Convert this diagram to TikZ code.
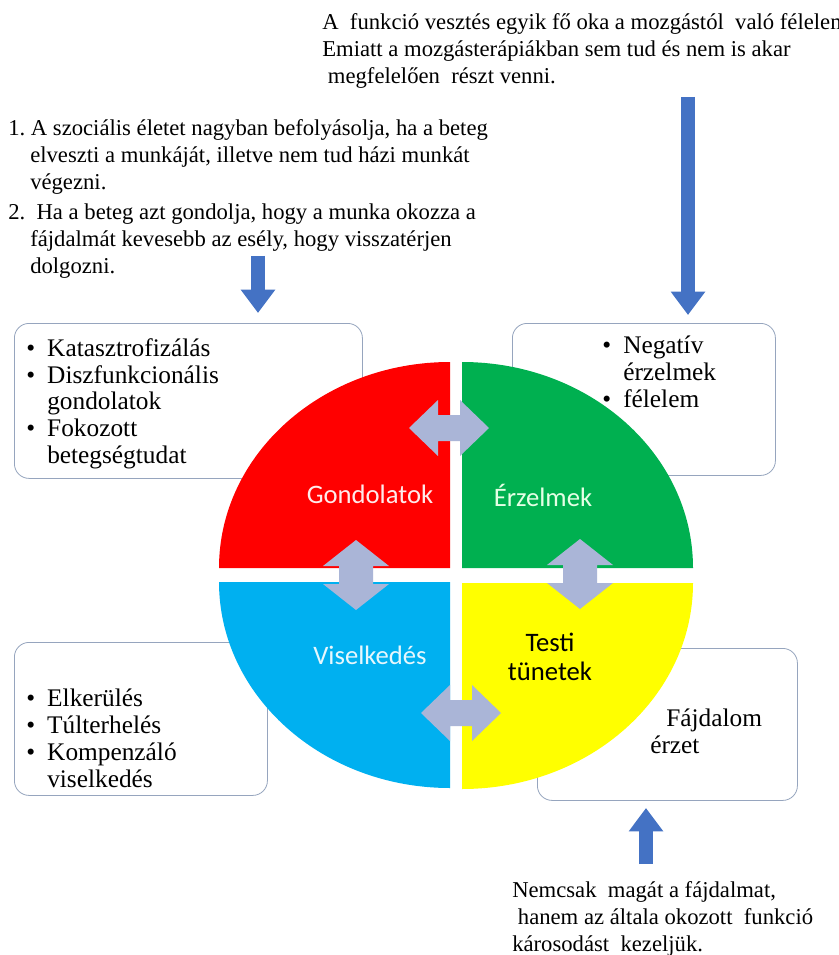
\documentclass[tikz,border=0pt]{standalone}
\usepackage{fontspec}
\setmainfont{Liberation Serif}
\newfontfamily\calibri{Carlito}
\usepackage{tikz}
\usetikzlibrary{arrows.meta,positioning}
\definecolor{cred}{RGB}{255,0,0}
\definecolor{cgreen}{RGB}{0,176,80}
\definecolor{cblue}{RGB}{0,176,240}
\definecolor{cyellow}{RGB}{255,255,0}
\definecolor{carr}{RGB}{68,114,196}
\definecolor{cgray}{RGB}{170,181,215}
\definecolor{cframe}{RGB}{150,165,190}
\tikzset{
  infobox/.style={rectangle,draw=cframe,line width=0.6pt,rounded corners=11pt,
    fill=white,inner sep=0pt},
  note/.style={font=\rmfamily\fontsize{17}{20.25}\selectfont,align=left,inner sep=0pt},
  listtxt/.style={font=\rmfamily\fontsize{19}{20.2}\selectfont,align=left,inner sep=0pt},
  quadlab/.style={font=\calibri\fontsize{20}{21.5}\selectfont,align=center,inner sep=0pt},
  bluearr/.style={draw=carr,line width=10.5pt,
    -{Triangle[width=24.75pt,length=17.5pt]}},
  % double-headed connectors between the quarters
  hdbl/.pic={\fill[cgray] (-40,0) -- (-11,-28) -- (-11,-13) -- (11,-13) -- (11,-28)
    -- (40,0) -- (11,28) -- (11,13) -- (-11,13) -- (-11,28) -- cycle;},
  vdbl/.pic={\fill[cgray] (0,-35) -- (33,-9) -- (17,-9) -- (17,9) -- (33,9)
    -- (0,35) -- (-33,9) -- (-17,9) -- (-17,-9) -- (-33,-9) -- cycle;}
}
\newcommand{\bul}{\makebox[15.75pt][l]{\textbullet}}
\newcommand{\bulind}{\hspace*{15.75pt}}

\begin{document}
\begin{tikzpicture}[x=0.75pt,y=-0.75pt]
  \useasboundingbox (0,0) rectangle (838,955);
  \fill[white] (0,0) rectangle (838,955);
  % boxes behind the circle
  \node[infobox,minimum width=261pt,minimum height=116.25pt,anchor=north west] (boxTL) at (14,323) {};
  \node[infobox,minimum width=197.25pt,minimum height=114pt,anchor=north west] (boxTR) at (512,323) {};
  \node[infobox,minimum width=189.75pt,minimum height=114.75pt,anchor=north west] (boxBL) at (14,642) {};
  \node[infobox,minimum width=195pt,minimum height=114pt,anchor=north west] (boxBR) at (537,648) {};
  \node[listtxt,anchor=north west] (txtTL) at (26,338) {\bul Katasztrofizálás\\ \bul Diszfunkcionális\\ \bulind gondolatok\\ \bul Fokozott\\ \bulind betegségtudat};
  \node[listtxt,anchor=north west] (txtTR) at (602,336) {\bul Negatív\\ \bulind érzelmek\\ \bul félelem};
  \node[listtxt,anchor=north west] (txtBL) at (26,689) {\bul Elkerülés\\ \bul Túlterhelés\\ \bul Kompenzáló\\ \bulind viselkedés};
  \node[listtxt,anchor=north west] (txtBR) at (650,709) {\hspace*{12pt}Fájdalom\\ érzet};
  % the four quarters
  \fill[cred] (450,568) -- (219,568) arc[start angle=180,end angle=270,x radius=231,y radius=206] -- cycle;
  \fill[cgreen] (462,568) -- (462,362) arc[start angle=270,end angle=360,x radius=231,y radius=206] -- cycle;
  \fill[cblue] (450,582) -- (450,788) arc[start angle=90,end angle=180,x radius=231,y radius=206] -- cycle;
  \fill[cyellow] (462,583) -- (693,583) arc[start angle=0,end angle=90,x radius=231,y radius=206] -- cycle;
  \node[quadlab,text=red!8] (gond) at (370,494) {Gondolatok};
  \node[quadlab,text=green!10] (erz) at (543,495) {Érzelmek};
  \node[quadlab,text=cyan!10] (visel) at (370,655) {Viselkedés};
  \node[quadlab,text=black] (testi) at (550,657) {Testi\\tünetek};
  \pic at (449,428) {hdbl};
  \pic at (461,713) {hdbl};
  \pic at (356,575) {vdbl};
  \pic at (580,574) {vdbl};
  % texts and blue arrows
  \node[note,anchor=north west] (topnote) at (322,13) {A\ \ funkció vesztés egyik fő oka a mozgástól\ \ való félelem\\ Emiatt a mozgásterápiákban sem tud és nem is akar\\ \ megfelelően\ \ részt venni.};
  \node[note,anchor=north west] (leftnote) at (8,119) {1.\ A szociális életet nagyban befolyásolja,\ ha a beteg\\ \hspace*{16.5pt}elveszti\ a munkáját, illetve nem tud házi munkát\\ \hspace*{16.5pt}végezni.\\[2.5pt] 2.\ \ Ha a beteg azt gondolja, hogy a munka okozza a\\ \hspace*{16.5pt}fájdalmát kevesebb az esély, hogy visszatérjen\\ \hspace*{16.5pt}dolgozni.};
  \node[note,anchor=north west] (botnote) at (512,881) {Nemcsak\ \ magát a fájdalmat,\\ \ hanem az általa okozott\ \ funkció\\ károsodást\ \ kezeljük.};
  \coordinate (rtail) at (688,97);
  \coordinate (rtip) at (688,315);
  \coordinate (ltail) at (258,256);
  \coordinate (ltip) at (258,313);
  \coordinate (btail) at (646,864);
  \coordinate (btip) at (646,808);
  \draw[bluearr] (rtail) -- (rtip);
  \draw[bluearr] (ltail) -- (ltip);
  \draw[bluearr] (btail) -- (btip);
\end{tikzpicture}
\end{document}
